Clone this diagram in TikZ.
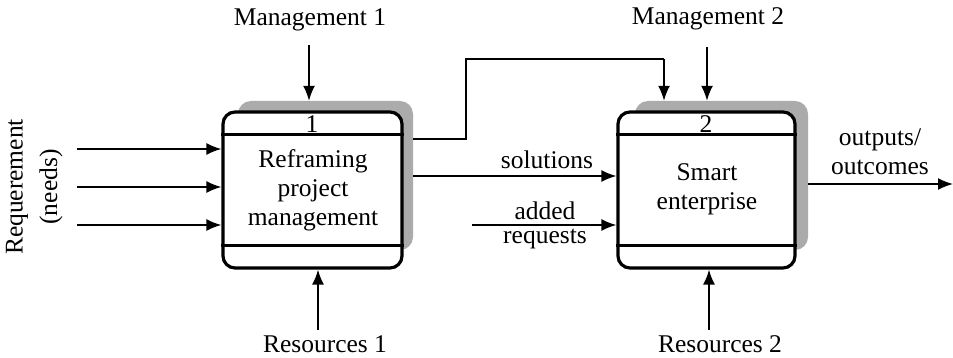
\documentclass[tikz,border=0pt]{standalone}
\usepackage{fontspec}
\setmainfont{Liberation Serif}
\usetikzlibrary{arrows.meta}
\begin{document}
\begin{tikzpicture}[x=1pt,y=-1pt,
  every node/.style={font=\fontsize{25.5}{29}\selectfont, inner sep=0pt},
  shadowbox/.style={fill=black!33, rounded corners=13pt, draw=none},
  actbox/.style={draw, line width=3.2pt, fill=white, rounded corners=12pt},
  divider/.style={line width=3pt},
  arr/.style={line width=1.7pt, -{Latex[length=15pt,width=12pt]}},
  link/.style={line width=1.7pt}]
\useasboundingbox (0,0) rectangle (953,358);

% shadows behind the activity boxes
\node[shadowbox, minimum width=175pt, minimum height=149pt] (sh1) at (325.5,175.5) {};
\node[shadowbox, minimum width=173pt, minimum height=149pt] (sh2) at (721.5,175.5) {};

% activity boxes
\node[actbox, minimum width=179pt, minimum height=156pt] (box1) at (312.5,190) {};
\node[actbox, minimum width=177pt, minimum height=156pt] (box2) at (706.5,190) {};

% header and footer strips
\draw[divider] (box1.west |- 0,135) -- (box1.east |- 0,135);
\draw[divider] (box1.west |- 0,245) -- (box1.east |- 0,245);
\draw[divider] (box2.west |- 0,135) -- (box2.east |- 0,135);
\draw[divider] (box2.west |- 0,245) -- (box2.east |- 0,245);

% box contents
\node (n1) at (312,124) {1};
\node (n2) at (706,124) {2};
\node[align=center] (t1) at (313,190) {Reframing\\project\\management};
\node[align=center] (t2) at (707,189) {Smart\\enterprise};

% inputs to activity 1
\node[rotate=90] (req) at (17,187) {Requerement};
\node[rotate=90] (needs) at (51,187) {(needs)};
\coordinate (i1) at (77,149);
\coordinate (i2) at (77,187);
\coordinate (i3) at (77,225);
\draw[arr] (i1) -- (i1 -| box1.west);
\draw[arr] (i2) -- (i2 -| box1.west);
\draw[arr] (i3) -- (i3 -| box1.west);

% controls and mechanisms
\node (m1) at (310,20) {Management 1};
\node (r1) at (325,344) {Resources 1};
\node (m2) at (708,19) {Management 2};
\node (r2) at (720,344) {Resources 2};
\coordinate (m1s) at (309,45);
\coordinate (r1s) at (318,330);
\coordinate (m2s) at (707,47);
\coordinate (r2s) at (709,330);
\draw[arr] (m1s) -- (m1s |- sh1.north);
\draw[arr] (r1s) -- (r1s |- box1.south);
\draw[arr] (m2s) -- (m2s |- sh2.north);
\draw[arr] (r2s) -- (r2s |- box2.south);

% feedback of activity 1 into the control of activity 2
\coordinate (fb) at (664,59);
\draw[link] (sh1.east |- 0,139) -- (466,139) -- (466,59) -- (fb);
\draw[arr] (fb) -- (fb |- sh2.north);

% outputs of activity 1 and extra inputs to activity 2
\coordinate (sol) at (0,176);
\draw[arr] (sh1.east |- sol) -- (box2.west |- sol);
\node (solt) at (547,160) {solutions};
\coordinate (addr) at (472,225);
\draw[arr] (addr) -- (addr -| box2.west);
\node (addt) at (545,211) {added};
\node (reqt) at (545,239) {requests};

% final output
\coordinate (outend) at (953,184);
\draw[arr] (sh2.east |- outend) -- (outend);
\node (out1) at (880,140) {outputs/};
\node (out2) at (880,167) {outcomes};
\end{tikzpicture}
\end{document}
